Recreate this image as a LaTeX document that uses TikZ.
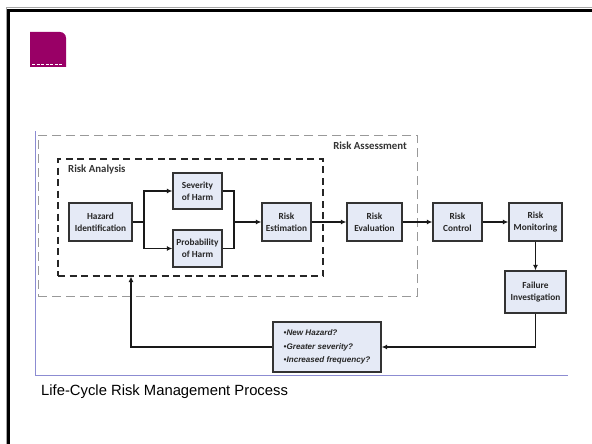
\documentclass[tikz,border=0pt]{standalone}
\usepackage{fontspec}
\newfontfamily\carl{Carlito}
\newfontfamily\libsans{Liberation Sans}
\usetikzlibrary{arrows.meta}
\definecolor{plum}{RGB}{153,0,102}
\definecolor{boxfill}{RGB}{229,234,246}
\definecolor{rulecol}{RGB}{140,140,210}
\tikzset{
  stepbox/.style={draw=black!80, line width=1.3pt, fill=boxfill, text=black!85,
    font=\carl\bfseries\fontsize{9.3}{11.8}\selectfont, align=center,
    inner sep=0pt, minimum width=#1},
  flow/.style={line width=1.3pt, draw=black!90},
  arr/.style={flow, -{Latex[length=5.5pt,width=5pt]}},
  grouplabel/.style={font=\carl\bfseries\fontsize{10.8}{12}\selectfont, text=black!80, inner sep=0pt},
}
\begin{document}
\begin{tikzpicture}[x=1pt, y=-1pt]
\useasboundingbox (0,0) rectangle (592,444);

% slide frame
\draw[line width=1pt, black!35] (6,444) -- (6,8) -- (592,8);
\draw[line width=2.6pt, black] (8.5,444) -- (8.5,10.5) -- (592,10.5);

% logo
\fill[plum] (30,67) -- (30,32) -- (60,32) arc[start angle=-90, end angle=0, radius=6] -- (66,67) -- cycle;
\draw[white, line width=0.4pt, dash pattern=on 3pt off 1.5pt] (32,64.5) -- (63,64.5);

% figure rules
\draw[rulecol, line width=0.7pt] (35,131) -- (35,375) -- (568,375);

% grouping frames
\node[draw=black!40, line width=1pt, dash pattern=on 9pt off 5pt, minimum width=379pt, minimum height=161pt, inner sep=0pt] (ass) at (227.5,215.5) {};
\node[grouplabel, anchor=east] (asslbl) at (407,146) {Risk Assessment};
\node[draw=black!85, line width=1.6pt, dash pattern=on 7pt off 4.5pt, minimum width=265pt, minimum height=117pt, inner sep=0pt] (ana) at (190.5,217.5) {};
\node[grouplabel, anchor=west] (analbl) at (68,170) {Risk Analysis};

% process steps
\node[stepbox=63pt, minimum height=38pt] (haz) at (100.5,222) {Hazard\\Identification};
\node[stepbox=49pt, minimum height=36pt] (sev) at (197.5,191) {Severity\\of Harm};
\node[stepbox=49pt, minimum height=37pt] (prob) at (197.5,248.5) {Probability\\of Harm};
\node[stepbox=49pt, minimum height=38pt] (est) at (286.5,222) {Risk\\Estimation};
\node[stepbox=55pt, minimum height=38pt] (eval) at (374.5,222) {Risk\\Evaluation};
\node[stepbox=49pt, minimum height=38pt] (ctrl) at (457.5,222) {Risk\\Control};
\node[stepbox=53pt, minimum height=38pt] (mon) at (535.5,222) {Risk\\Monitoring};
\node[stepbox=61pt, minimum height=42pt] (fail) at (535.5,292) {Failure\\Investigation};
\node[stepbox=108pt, minimum height=50pt, align=left,
      font=\libsans\bfseries\itshape\fontsize{8.1}{13.3}\selectfont] (quest) at (327,347)
  {•New Hazard?\\•Greater severity?\\•Increased frequency?};

% connectors
\coordinate (split) at (144,222);
\coordinate (join) at (234,222);
\coordinate (back) at (131,276.5);
\draw[flow] (haz) -- (split);
\draw[arr] (split) |- (sev);
\draw[arr] (split) |- (prob);
\draw[flow] (sev) -| (join);
\draw[flow] (prob) -| (join);
\draw[arr] (join) -- (est);
\draw[arr] (est) -- (eval);
\draw[arr] (eval) -- (ctrl);
\draw[arr] (ctrl) -- (mon);
\draw[arr] (mon) -- (fail);
\draw[arr] (fail.south) |- (quest.east);
\draw[arr] (quest.west) -| (back);

% caption
\node[font=\libsans\fontsize{14.8}{16}\selectfont, anchor=base west, inner sep=0pt] (cap) at (41,395.5) {Life-Cycle Risk Management Process};
\end{tikzpicture}
\end{document}
